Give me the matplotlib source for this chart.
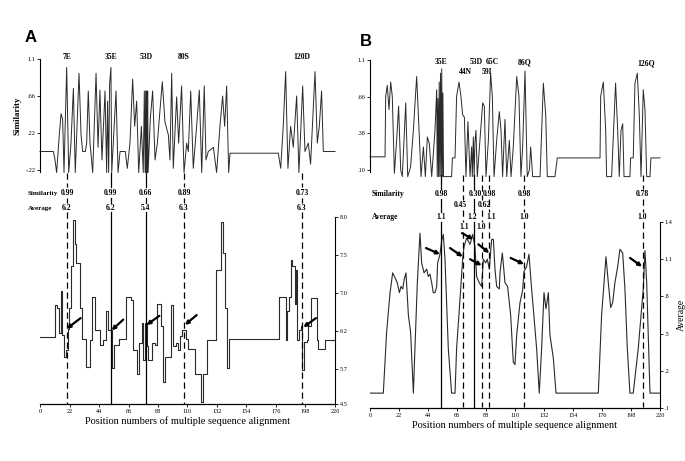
import matplotlib
matplotlib.use("Agg")
import matplotlib.pyplot as plt
from matplotlib.transforms import blended_transform_factory

W, H = 685, 461

# ---- panel A data -------------------------------------------------------
sim_a = [(0, 0), (10, 0), (11.2, -0.1), (12.4, -0.25), (14.4, 0.2), (15.7, 0.45), (16.9, 0.38),
         (17.9, -0.25), (19.9, 1.0), (21.4, -0.25), (23.1, 0.1), (24.9, 0.75), (26.3, -0.25),
         (29.1, 0.93), (30.6, 0.2), (31.8, 0.0), (33.8, 0.0), (34.8, 0.1), (36.0, 0.72), (37.3, 0.1),
         (39.3, -0.25), (41.8, 0.93), (43.3, 0.05), (44.7, 0.73), (46.2, -0.1), (48.5, 0.72),
         (49.7, -0.25), (50.4, 0.6), (51.2, -0.25), (51.9, 0.8), (52.9, 1.0), (53.5, -0.25),
         (56.7, 0.72), (58.2, -0.25), (59.7, 0.0), (63.6, 0.0), (65.1, -0.2), (67.1, 0.1),
         (69.1, 0.86), (70.6, 0.3), (72.1, 0.6), (73.6, -0.25), (75.6, 0.3), (77.0, -0.25),
         (77.8, 0.72), (78.4, -0.25), (78.8, 0.72), (79.2, -0.25), (79.5, 0.72), (79.9, -0.25),
         (80.3, 0.72), (80.6, -0.25), (82.3, 0.4), (84.0, 0.72), (85.8, -0.1), (87.5, 0.1),
         (91.2, 0.83), (93.2, 0.35), (95.7, 0.2), (96.9, -0.1), (98.2, 0.93), (99.4, -0.2),
         (101.9, 0.65), (103.4, 0.1), (105.6, 0.78), (107.4, -0.25), (109.4, 0.1), (110.6, 0.0),
         (112.4, 0.72), (114.3, -0.2), (116.8, 0.3), (118.8, 0.73), (120.6, -0.25), (122.5, 0.78),
         (123.8, -0.1), (125.5, 0.0), (129.3, 0.05), (131.7, -0.25), (134.2, 0.3), (136.2, 0.66),
         (137.7, 0.3), (139.2, 0.78), (140.7, -0.25), (141.7, -0.02), (177.7, -0.02), (179.5, -0.2),
         (181.4, 0.3), (183.2, 0.95), (184.9, -0.2), (186.9, 0.3), (188.9, 0.05), (191.4, 0.66),
         (193.1, -0.25), (195.9, 0.78), (197.6, 0.0), (200.1, 0.1), (201.8, -0.15), (205.1, 0.95),
         (206.8, 0.1), (208.3, 0.3), (210.0, 0.72), (211.3, 0.0), (220, 0.0)]

avg_a = [(0, 6.42), (11.2, 6.84), (12.9, 6.80), (14.4, 6.47), (15.7, 7.02), (16.4, 6.45),
         (18.1, 6.16), (19.4, 6.25), (20.6, 6.53), (21.9, 6.80), (23.1, 7.35), (24.9, 7.96),
         (26.1, 7.65), (26.8, 7.39), (29.8, 6.80), (31.1, 6.40), (34.3, 6.03), (37.3, 6.38),
         (38.5, 6.95), (41.0, 6.51), (44.7, 6.32), (47.2, 6.38), (49.2, 6.76), (50.5, 6.51),
         (53.9, 6.01), (55.2, 6.32), (59.2, 6.40), (64.1, 6.95), (67.9, 6.91), (69.1, 6.25),
         (72.6, 5.94), (74.1, 6.34), (75.8, 6.60), (77.1, 6.12), (78.3, 6.60), (79.5, 6.30),
         (80.8, 6.12), (83.3, 6.34), (85.8, 6.32), (87.0, 6.86), (90.2, 6.56), (92.0, 5.83),
         (93.2, 6.16), (97.4, 6.84), (99.4, 6.30), (101.4, 6.34), (103.2, 6.25), (104.4, 6.43),
         (106.1, 6.51), (108.6, 6.40), (110.6, 6.27), (115.6, 5.94), (120.1, 5.57), (121.8, 5.94),
         (124.3, 6.38), (131.2, 7.30), (134.7, 7.93), (136.2, 7.52), (137.7, 6.80), (139.7, 6.01),
         (140.7, 6.39), (177.9, 6.95), (183.4, 6.38), (184.4, 6.76), (185.4, 6.95), (186.9, 7.43),
         (188.2, 7.35), (189.9, 6.86), (190.7, 7.30), (191.4, 6.38), (193.1, 6.51), (194.6, 6.56),
         (195.6, 5.99), (196.9, 6.36), (198.9, 6.38), (200.1, 6.56), (201.8, 6.93), (206.3, 6.38),
         (207.6, 6.27), (212.5, 6.38), (220, 6.38)]

sites_a = [20.1, 52.9, 79.0, 107.4, 195.4]
sites_a_style = ["--", "-", "-", "--", "--"]
names_a = ["7E", "35E", "53D", "80S", "120D"]
sim_text_a = ["0.99", "0.99", "0.66", "0.89", "0.73"]
avg_text_a = ["6.2", "6.2", "5.4", "6.3", "6.3"]
arrows_a = [((30.3, 6.67), (19.9, 6.53)), ((62.1, 6.65), (53.4, 6.51)), ((89.0, 6.70), (79.5, 6.58)),
            ((116.8, 6.71), (108.1, 6.58)), ((205.8, 6.67), (196.4, 6.55))]
sim_ticks_a = [1.1, 0.66, 0.22, -0.22]
sim_ticklabels_a = ["1.1", ".66", ".22", "-.22"]
avg_ticks_a = [8.0, 7.5, 7.0, 6.5, 6.0, 5.54]
avg_ticklabels_a = ["8.0", "7.5", "7.0", "6.2", "5.7", "4.5"]

# ---- panel B data -------------------------------------------------------
sim_b = [(0, .22), (11.4, .22), (11.9, .77), (13.1, .87), (14.4, .65), (15.7, .90), (16.9, .77),
         (18.5, .07), (20.2, .37), (21.7, .68), (23.3, .10), (24.5, .04), (25.8, .37), (27.1, .71),
         (28.6, .04), (30.8, .13), (32.9, .46), (35.4, .95), (37.2, .46), (38.7, .04), (40.5, .31),
         (42.0, .04), (43.5, .40), (45.0, .34), (46.8, .04), (49.3, .46), (50.6, .83), (51.0, .04),
         (51.5, .75), (52.0, .04), (52.5, .90), (53.0, .04), (53.5, .98), (54.0, .04), (54.4, 1.02),
         (54.9, .04), (55.3, .80), (55.8, .04), (61.9, .04), (62.5, .21), (64.5, .21), (65.7, .77),
         (67.5, .90), (69.0, .77), (70.3, .60), (71.6, .58), (72.8, .04), (74.3, .54), (75.9, .04),
         (77.1, .31), (77.6, .04), (78.4, .40), (79.0, .04), (79.6, .35), (80.4, .46), (81.4, .04),
         (83.4, .37), (85.5, .71), (86.7, .68), (88.0, .04), (89.8, .37), (91.5, .98), (92.8, .77),
         (94.1, .04), (96.1, .37), (98.1, .63), (99.4, .46), (100.6, .04), (102.4, .56), (103.7, .04),
         (105.7, .37), (107.0, .04), (108.7, .31), (111.3, .95), (113.0, .77), (114.5, .04),
         (115.8, .31), (117.6, 1.00), (119.3, .04), (120.9, .10), (121.9, .31), (123.4, .04),
         (129.0, .04), (131.5, .89), (133.3, .60), (134.5, .04), (140.3, .04), (142.1, .21),
         (174.5, .21), (175.0, .77), (177.0, .90), (178.8, .46), (179.5, .04), (183.3, .04),
         (186.3, .89), (187.9, .46), (189.1, .04), (190.4, .46), (191.7, .52), (192.7, .04),
         (197.2, .04), (197.7, .21), (199.7, .21), (201.0, .89), (202.8, .98), (204.3, .60),
         (205.6, .04), (207.3, .83), (208.6, .65), (209.9, .04), (212.4, .04), (213.1, .21), (220, .21)]

avg_b = [(0, .02), (10.1, .02), (12.6, .51), (15.2, .83), (17.2, .99), (19.0, .95), (20.7, .91),
         (22.3, .83), (23.5, .88), (24.8, .86), (26.0, .94), (27.3, .99), (29.1, .65), (30.8, .51),
         (32.9, .02), (34.1, .38), (35.9, .91), (37.9, 1.31), (39.2, 1.07), (41.0, .99), (43.0, 1.02),
         (44.2, .96), (45.5, .98), (46.8, .91), (48.0, .83), (49.3, .83), (50.6, .88), (51.3, 1.07),
         (53.1, 1.14), (54.4, 1.25), (55.6, 1.30), (56.9, 1.10), (59.4, .38), (61.9, .02), (64.5, .02),
         (65.7, .38), (68.3, .78), (70.3, 1.10), (71.3, 1.20), (73.3, 1.27), (75.9, 1.22), (77.9, 1.30),
         (79.6, 1.20), (80.9, .96), (82.9, .91), (84.7, .88), (86.0, 1.10), (87.7, 1.07), (89.0, 1.10),
         (90.5, 1.02), (92.3, 1.26), (93.6, 1.26), (94.8, 1.02), (96.1, .88), (98.1, .86), (98.6, .99),
         (100.4, 1.15), (102.4, .91), (104.4, .88), (106.7, .65), (108.7, .27), (110.0, .25),
         (111.3, .49), (113.8, .75), (115.8, .85), (116.8, 1.00), (118.8, 1.04), (120.6, 1.14),
         (122.6, .86), (123.9, .70), (126.4, .38), (128.4, .02), (130.2, .38), (132.0, .83),
         (133.5, .70), (135.3, .83), (136.5, .49), (139.1, .30), (141.1, .02), (173.2, .02),
         (175.7, .65), (179.0, 1.12), (180.8, .91), (182.6, .71), (184.1, .75), (185.8, .91),
         (187.9, 1.04), (189.6, 1.18), (191.7, 1.15), (193.4, .86), (195.2, .38), (197.2, .02),
         (199.7, .02), (203.5, .38), (207.3, .86), (208.6, 1.17), (209.9, .91), (212.4, .02), (220, .02)]

sites_b = [53.9, 70.3, 79.1, 85.2, 90.5, 116.8, 206.8]
sites_b_style = ["-", "--", "-", "--", "--", "--", "--"]
arrows_b = [((42.5, 1.19), (53.1, 1.14)), ((60.7, 1.19), (70.3, 1.12)), ((69.8, 1.31), (78.4, 1.26)),
            ((75.9, 1.10), (84.7, 1.05)), ((82.2, 1.22), (90.5, 1.15)), ((106.7, 1.11), (116.8, 1.06)),
            ((197.3, 1.11), (206.4, 1.04))]
sim_ticks_b = [1.1, 0.767, 0.433, 0.10]
sim_ticklabels_b = ["1.1", ".66", ".38", ".10"]
avg_ticks_b = [1.4, 1.1, 0.8, 0.5, 0.2, -0.1]
avg_ticklabels_b = ["1.4", "1.1", ".8", ".5", ".2", ".1"]

x_ticks = list(range(0, 221, 22))

plt.rcParams["font.family"] = ["Liberation Serif", "DejaVu Serif"]
LINE = "#2a2a2a"


def box(x0, x1, y0, y1):
    # pixel box -> figure fraction rect
    return [x0 / W, 1 - y1 / H, (x1 - x0) / W, (y1 - y0) / H]


def fy(y):
    return 1 - y / H


def unzip(pairs):
    return [p[0] for p in pairs], [p[1] for p in pairs]


def top_axes(fig, rect, pairs, ylim, ticks, labels):
    ax = fig.add_axes(rect)
    x, y = unzip(pairs)
    ax.plot(x, y, color=LINE, lw=0.7, clip_on=False)
    ax.set_xlim(0, 220)
    ax.set_ylim(*ylim)
    for s in ["top", "right", "bottom"]:
        ax.spines[s].set_visible(False)
    ax.spines["left"].set_linewidth(0.8)
    ax.set_xticks([])
    ax.set_yticks(ticks, labels)
    ax.tick_params(axis="y", labelsize=4.5, length=2, width=0.6, pad=1)
    ax.patch.set_alpha(0)
    return ax


def bottom_axes(fig, rect, pairs, ylim, ticks, labels, steps):
    ax = fig.add_axes(rect)
    x, y = unzip(pairs)
    if steps:
        ax.step(x, y, where="post", color=LINE, lw=0.8)
    else:
        ax.plot(x, y, color=LINE, lw=0.8)
    ax.set_xlim(0, 220)
    ax.set_ylim(*ylim)
    ax.spines["left"].set_visible(False)
    ax.spines["top"].set_visible(False)
    ax.spines["bottom"].set_linewidth(0.9)
    ax.spines["right"].set_linewidth(0.8)
    ax.yaxis.tick_right()
    ax.set_yticks(ticks, labels)
    ax.set_xticks(x_ticks)
    ax.tick_params(labelsize=4.5, length=2, width=0.6, pad=1.5)
    ax.set_xlabel("Position numbers of multiple sequence alignment", fontsize=7.5, labelpad=2)
    ax.patch.set_alpha(0)
    return ax


def site_lines(ax, fig, xs, styles, segments):
    tr = blended_transform_factory(ax.transData, fig.transFigure)
    for x, ls, segs in zip(xs, styles, segments):
        for y0, y1 in segs:
            ax.plot([x, x], [fy(y0), fy(y1)], ls, color="black", lw=0.9,
                    transform=tr, clip_on=False, dashes=(5, 3) if ls == "--" else (None, None))


def label(ax, fig, x, ypix, text, size=5.5, ha="center", weight="bold"):
    tr = blended_transform_factory(ax.transData, fig.transFigure)
    ax.text(x, fy(ypix), text, transform=tr, ha=ha, va="center", fontsize=size,
            fontweight=weight, clip_on=False)


def arrows(ax, pairs):
    for tail, tip in pairs:
        ax.annotate("", xy=tip, xytext=tail,
                    arrowprops=dict(arrowstyle="-|>", lw=1.6, color="black",
                                    mutation_scale=5, shrinkA=0, shrinkB=0))


fig = plt.figure(figsize=(W / 100, H / 100), dpi=100)

# ---- panel A --------------------------------------------------------------
ax_ta = top_axes(fig, box(40, 335, 59, 171.7), sim_a, (-0.24, 1.1), sim_ticks_a, sim_ticklabels_a)
ax_ta.set_ylabel("Similarity", fontsize=6.5, fontweight="bold", labelpad=3)
ax_ba = bottom_axes(fig, box(40, 335, 217, 404), avg_a, (5.54, 8.0), avg_ticks_a, avg_ticklabels_a, True)
site_lines(ax_ba, fig, sites_a, sites_a_style, [[(173, 187), (198, 203), (212, 404)]] * len(sites_a))
for x, n, s, a in zip(sites_a, names_a, sim_text_a, avg_text_a):
    label(ax_ba, fig, x, 57, n)
    label(ax_ba, fig, x, 193, s)
    label(ax_ba, fig, x, 208, a)
fig.text(28 / W, fy(193), "Similarity", fontsize=5, fontweight="bold", va="center")
fig.text(28 / W, fy(208), "Average", fontsize=5, fontweight="bold", va="center")
arrows(ax_ba, arrows_a)
fig.text(25 / W, fy(37), "A", fontsize=12, fontweight="bold", family="Liberation Sans", va="center")

# ---- panel B --------------------------------------------------------------
ax_tb = top_axes(fig, box(370, 660, 60, 172), sim_b, (0.082, 1.1), sim_ticks_b, sim_ticklabels_b)
ax_bb = bottom_axes(fig, box(370, 660, 222, 408), avg_b, (-0.084, 1.4), avg_ticks_b, avg_ticklabels_b, False)
ax_bb.yaxis.set_label_position("right")
ax_bb.set_ylabel("Average", fontsize=7, rotation=90, labelpad=3)
upper = [(175, 189), (199, 212), (222, 407)]
lower = [(175, 200), (210, 222), (232, 407)]
site_lines(ax_bb, fig, sites_b, sites_b_style, [upper, lower, upper, lower, upper, upper, upper])
for x, y, t in [(53.9, 62, "35E"), (80.4, 62, "53D"), (92.5, 62, "65C"), (117.6, 62, "86Q"),
                (72.1, 72, "44N"), (88.8, 72, "59I"), (209.4, 63, "126Q"),
                (53.9, 194, "0.98"), (79.6, 194, "0.30"), (90.5, 194, "0.98"), (116.8, 194, "0.98"),
                (206.8, 194, "0.78"), (68.5, 205, "0.45"), (86.5, 205, "0.62"),
                (53.9, 217, "1.1"), (77.5, 217, "1.2"), (92.3, 217, "1.1"), (116.8, 217, "1.0"),
                (206.8, 217, "1.0"), (71.6, 227, "1.1"), (84.3, 227, "1.0")]:
    label(ax_bb, fig, x, y, t)
fig.text(372 / W, fy(194), "Similarity", fontsize=5.5, fontweight="bold", va="center")
fig.text(372 / W, fy(217), "Average", fontsize=5.5, fontweight="bold", va="center")
arrows(ax_bb, arrows_b)
fig.text(360 / W, fy(42), "B", fontsize=12, fontweight="bold", family="Liberation Sans", va="center")

fig.savefig("out.png", dpi=100)
